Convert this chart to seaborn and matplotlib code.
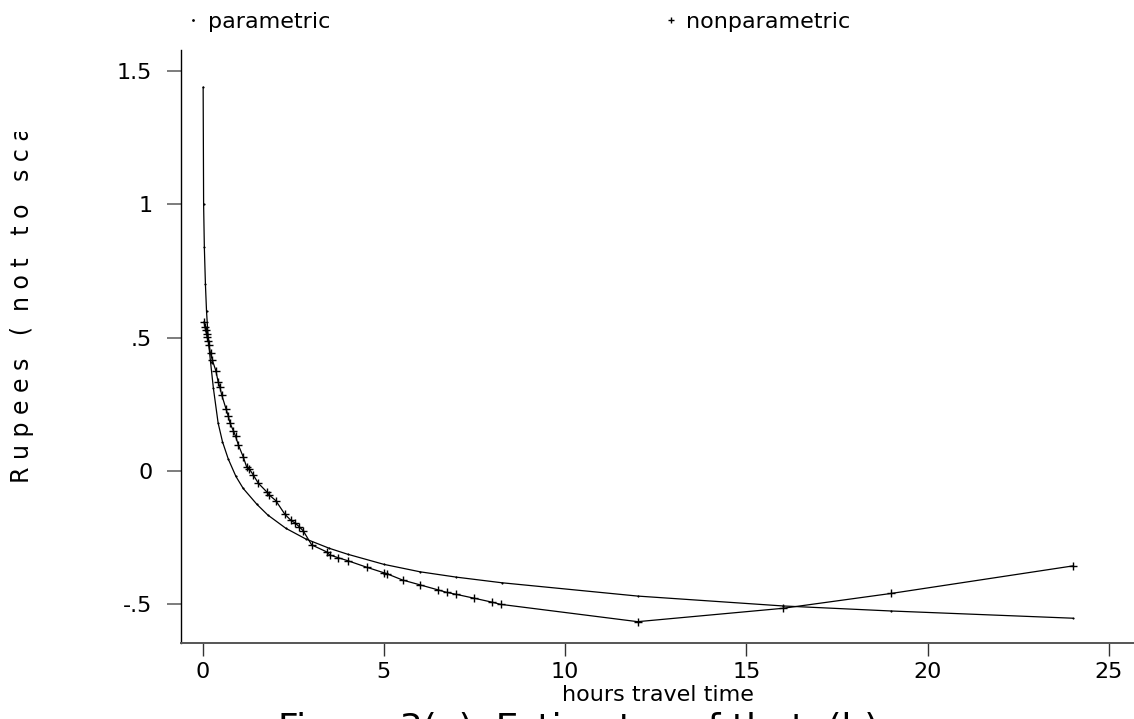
import pandas as pd
import seaborn as sns
import matplotlib
matplotlib.use("Agg")
import matplotlib.pyplot as plt
from matplotlib.lines import Line2D
from matplotlib.transforms import Bbox, TransformedBbox

# parametric estimate of theta(h)
par_hours = [0.017, 0.03, 0.05, 0.08, 0.11, 0.16, 0.22, 0.30, 0.43, 0.55, 0.71, 0.92, 1.12,
             1.5, 1.8, 2.3, 2.85, 3.5, 4.0, 5.0, 6.0, 7.0, 8.25, 12, 16, 19, 24]
par_theta = [1.44, 1.00, 0.84, 0.70, 0.60, 0.49, 0.41, 0.31, 0.18, 0.11, 0.045, -0.02, -0.065,
             -0.125, -0.165, -0.215, -0.255, -0.29, -0.312, -0.35, -0.378, -0.398, -0.419,
             -0.469, -0.506, -0.525, -0.552]

# nonparametric estimate
np_hours = [0.04, 0.066, 0.085, 0.11, 0.13, 0.16, 0.18, 0.22, 0.27, 0.37, 0.43, 0.48, 0.53,
            0.65, 0.71, 0.76, 0.85, 0.91, 0.99, 1.12, 1.22, 1.29, 1.40, 1.54, 1.77, 1.84,
            2.02, 2.27, 2.43, 2.55, 2.67, 2.78, 3.01, 3.42, 3.51, 3.74, 4.02, 4.53, 5.01,
            5.08, 5.52, 6.0, 6.5, 6.73, 6.98, 7.49, 7.99, 8.22, 12, 16, 19, 24]
np_theta = [0.560, 0.541, 0.529, 0.514, 0.501, 0.489, 0.472, 0.441, 0.416, 0.375, 0.335,
            0.314, 0.285, 0.232, 0.206, 0.179, 0.151, 0.131, 0.097, 0.054, 0.014, 0.008,
            -0.015, -0.046, -0.078, -0.090, -0.111, -0.162, -0.184, -0.195, -0.209, -0.225,
            -0.277, -0.303, -0.315, -0.325, -0.337, -0.361, -0.382, -0.385, -0.409, -0.427,
            -0.446, -0.455, -0.462, -0.477, -0.492, -0.500, -0.565, -0.515, -0.459, -0.356]

x_ticks = [0, 5, 10, 15, 20, 25]
y_ticks = [-0.5, 0, 0.5, 1, 1.5]
y_tick_labels = ["-.5", "0", ".5", "1", "1.5"]

sns.set_style("ticks")
plt.rcParams["font.family"] = ["DejaVu Sans"]
plt.rcParams["text.color"] = "black"
plt.rcParams["axes.labelcolor"] = "black"
plt.rcParams["xtick.labelcolor"] = "black"
plt.rcParams["ytick.labelcolor"] = "black"

par = pd.DataFrame({"hours": par_hours, "theta": par_theta})
nonpar = pd.DataFrame({"hours": np_hours, "theta": np_theta})

fig = plt.figure(figsize=(11.34, 7.19), dpi=100)
ax = fig.add_axes([0.16005, 0.1057, 0.83995, 0.8248])

sns.lineplot(data=par, x="hours", y="theta", ax=ax, color="black", linewidth=0.9,
             marker=".", markersize=2, markeredgecolor="black", markeredgewidth=0.5,
             estimator=None, legend=False)
sns.lineplot(data=nonpar, x="hours", y="theta", ax=ax, color="black", linewidth=0.9,
             marker="+", markersize=6, markeredgewidth=1.0, markeredgecolor="black",
             estimator=None, legend=False)

ax.set_xlim(-0.58, 25.69)
ax.set_ylim(-0.645, 1.579)
ax.set_xticks(x_ticks)
ax.set_yticks(y_ticks, labels=y_tick_labels)
ax.tick_params(axis="y", length=10, width=1.2, color="#666666", pad=11, labelsize=16)
ax.tick_params(axis="x", length=9, width=1.0, color="#333333", pad=5, labelsize=16)

sns.despine(ax=ax)
ax.spines["left"].set_color("black")
ax.spines["left"].set_linewidth(1.0)
ax.spines["bottom"].set_color("#555555")
ax.spines["bottom"].set_linewidth(1.4)

ax.set_xlabel("hours travel time", fontsize=16, labelpad=2)
ax.set_ylabel("")

# y label, letter spaced and cut off at the top as in the original
ylab = fig.text(0.0194, 0.328, "R u p e e s   (  n o t   t o   s c a l e )",
                rotation=90, ha="center", va="bottom", fontsize=17)
ylab.set_clip_box(TransformedBbox(Bbox.from_extents(0, 0, 1, 0.8164), fig.transFigure))
ylab.set_clip_on(True)

# title, mostly below the bottom edge of the picture
fig.text(0.5097, 1 - 712 / 719, "Figure 3(a). Estimates of theta(h)", ha="center", va="top",
         fontsize=26)

handles = [Line2D([], [], color="black", marker=".", markersize=2, linestyle="none"),
           Line2D([], [], color="black", marker="+", markersize=5, linestyle="none")]
fig.legend(handles, ["parametric", "nonparametric"], ncol=2, frameon=False,
           loc="center left", bbox_to_anchor=(184 / 1134, 1 - 22 / 719),
           fontsize=16, handlelength=0.8, handletextpad=0.3, columnspacing=14.9,
           borderpad=0, borderaxespad=0)

fig.savefig("out.png", dpi=100)
